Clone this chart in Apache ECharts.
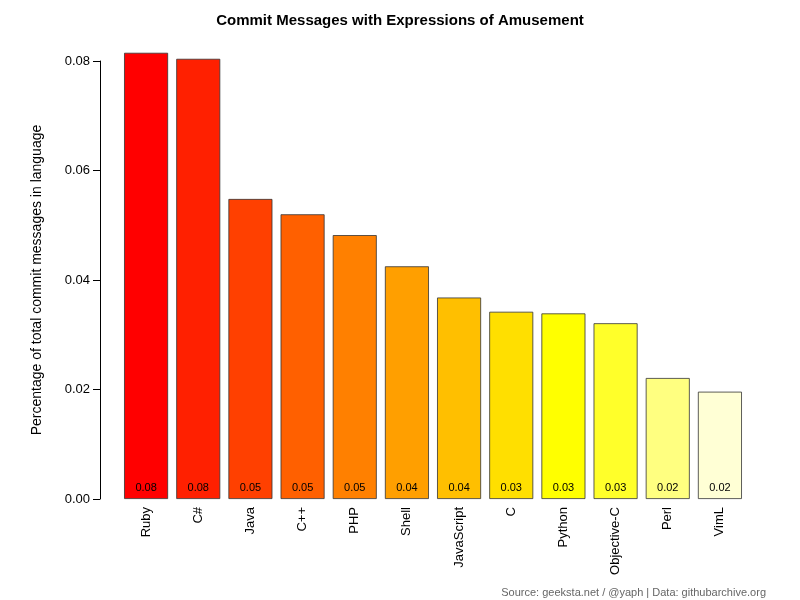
<!DOCTYPE html>
<html>
<head>
<meta charset="utf-8">
<script src="https://cdn.jsdelivr.net/npm/echarts@6/dist/echarts.min.js"></script>
<style>html,body{margin:0;background:#fff}#chart{width:800px;height:600px}</style>
</head>
<body>
<div id="chart"></div>
<script>
const languages = ["Ruby", "C#", "Java", "C++", "PHP", "Shell", "JavaScript", "C", "Python", "Objective-C", "Perl", "VimL"];
const shares = [0.0815, 0.0804, 0.0548, 0.0520, 0.0482, 0.0425, 0.0368, 0.0342, 0.0339, 0.0321, 0.0221, 0.0196];
const barColors = ["#FF0000", "#FF2000", "#FF4000", "#FF6000", "#FF8000", "#FF9F00", "#FFBF00", "#FFDF00", "#FFFF00", "#FFFF2A", "#FFFF80", "#FFFFD5"];
const yTicks = [0, 0.02, 0.04, 0.06, 0.08];

let myChart = echarts.init(document.getElementById("chart"));
let option = {
    animation: false,
    title: {
        text: "Commit Messages with Expressions of Amusement",
        left: "center", top: 8,
        textStyle: { fontFamily: "Liberation Sans", fontSize: 15, fontWeight: "bold", color: "#000" }
    },
    graphic: [{
        type: "text", right: 34, bottom: 2,
        style: { text: "Source: geeksta.net / @yaph | Data: githubarchive.org", fill: "#666", font: "11px Liberation Sans" }
    }],
    grid: { left: 120, right: 54, top: 61, bottom: 101 },
    xAxis: {
        type: "category",
        data: languages,
        axisLine: { show: false },
        axisTick: { show: false },
        axisLabel: { rotate: 90, color: "#000", fontSize: 13, fontFamily: "Liberation Sans", margin: 8 }
    },
    yAxis: {
        type: "value",
        min: 0, max: 0.08, interval: 0.02,
        offset: 20,
        name: "Percentage of total commit messages in language",
        nameLocation: "middle", nameGap: 56,
        nameTextStyle: { color: "#000", fontSize: 14, fontFamily: "Liberation Sans" },
        axisLine: { show: true, lineStyle: { color: "#000" } },
        axisTick: { show: true, length: 7, lineStyle: { color: "#000" } },
        splitLine: { show: false },
        axisLabel: {
            color: "#000", fontSize: 13, fontFamily: "Liberation Sans", margin: 10,
            formatter: v => yTicks.includes(+v.toFixed(2)) ? v.toFixed(2) : ""
        }
    },
    series: [{
        type: "bar",
        clip: false,
        barWidth: 44,
        data: shares.map((v, i) => ({ value: v, itemStyle: { color: barColors[i] } })),
        itemStyle: { borderColor: "#333", borderWidth: 0.8 },
        label: {
            show: true, position: "insideBottom", distance: 6,
            color: "#000", fontSize: 11, fontFamily: "Liberation Sans",
            formatter: p => p.value.toFixed(2)
        }
    }]
};
myChart.setOption(option);
</script>
</body>
</html>
